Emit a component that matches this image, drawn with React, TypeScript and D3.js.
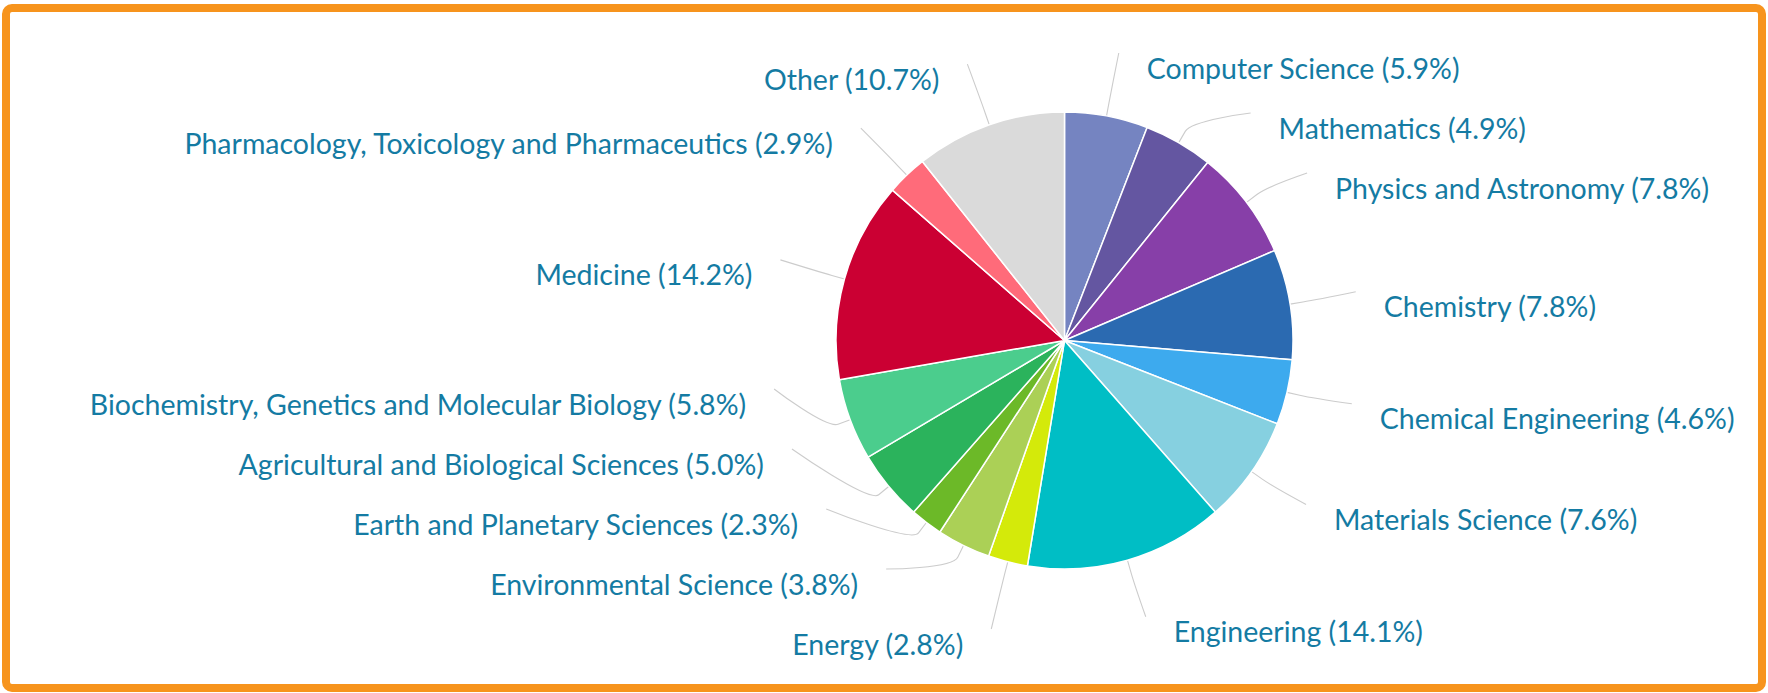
// react
import { useEffect, useRef } from "react";

// d3
import * as d3 from "d3";

const CATEGORIES = [
  "Computer Science",
  "Mathematics",
  "Physics and Astronomy",
  "Chemistry",
  "Chemical Engineering",
  "Materials Science",
  "Engineering",
  "Energy",
  "Environmental Science",
  "Earth and Planetary Sciences",
  "Agricultural and Biological Sciences",
  "Biochemistry, Genetics and Molecular Biology",
  "Medicine",
  "Pharmacology, Toxicology and Pharmaceutics",
  "Other",
];

const SHARES = [5.9, 4.9, 7.8, 7.8, 4.6, 7.6, 14.1, 2.8, 3.8, 2.3, 5.0, 5.8, 14.2, 2.9, 10.7];

const COLORS = [
  "#7584c1",
  "#6456a1",
  "#873fa8",
  "#2b6ab1",
  "#3daaee",
  "#86d0e0",
  "#00bec5",
  "#d4ea0a",
  "#abd056",
  "#6cb928",
  "#2bb35c",
  "#4bcd8d",
  "#cb0033",
  "#ff6b7a",
  "#dadada",
];

const W = 1768;
const H = 693;

type Slice = { name: string; value: number; color: string };

// spread labels of one side so they keep a minimum gap (highcharts-like)
function distribute(nat: number[], gap: number, min: number, max: number) {
  let groups = nat.map((y) => ({ n: 1, sum: y }));
  const pos = (g: { n: number; sum: number }) =>
    Math.max(min, Math.min(max - (g.n - 1) * gap, g.sum / g.n - ((g.n - 1) * gap) / 2));
  let changed = true;
  while (changed) {
    changed = false;
    for (let i = 0; i < groups.length - 1; i++) {
      const a = groups[i];
      const b = groups[i + 1];
      if (pos(a) + a.n * gap > pos(b) + 0.01) {
        groups = [
          ...groups.slice(0, i),
          { n: a.n + b.n, sum: a.sum + b.sum },
          ...groups.slice(i + 2),
        ];
        changed = true;
        break;
      }
    }
  }
  const out: number[] = [];
  groups.forEach((g) => {
    const p = pos(g);
    for (let k = 0; k < g.n; k++) out.push(p + k * gap);
  });
  return out;
}

export default function App() {
  const ref = useRef<SVGSVGElement>(null);

  useEffect(() => {
    if (!ref.current) return;
    const svg = d3.select(ref.current);
    svg.selectAll("*").remove();

    const cx = 1064.5;
    const cy = 340.5;
    const r = 228.5;
    // labels sit on an ellipse around the pie
    const Rx = 295;
    const Ry = 290;
    const cyl = 338;
    const gap = 60;
    const top = 53;
    const bottom = 629;

    // frame
    svg
      .append("rect")
      .attr("x", 6)
      .attr("y", 8)
      .attr("width", 1756)
      .attr("height", 680)
      .attr("rx", 6)
      .attr("fill", "#fff")
      .attr("stroke", "#f7941d")
      .attr("stroke-width", 8);

    const data: Slice[] = CATEGORIES.map((name, i) => ({
      name,
      value: SHARES[i],
      color: COLORS[i],
    }));

    const pie = d3
      .pie<Slice>()
      .sort(null)
      .value((d) => d.value);
    const arcs = pie(data);

    const arc = d3.arc<d3.PieArcDatum<Slice>>().innerRadius(0).outerRadius(r);

    const g = svg.append("g");

    // label layout
    const items = arcs.map((a) => {
      const mid = (a.startAngle + a.endAngle) / 2;
      return {
        a,
        mid,
        left: mid > Math.PI,
        natY: cyl - Math.cos(mid) * Ry,
        y: 0,
        x: 0,
      };
    });

    [false, true].forEach((isLeft) => {
      const side = items.filter((d) => d.left === isLeft).sort((p, q) => p.natY - q.natY);
      const ys = distribute(
        side.map((d) => d.natY),
        gap,
        top,
        bottom
      );
      side.forEach((d, i) => {
        d.y = ys[i];
        const yy = d.y < top + 2 || d.y > bottom - 2 ? d.natY : d.y;
        const t = Math.min(1, Math.abs(yy - cyl) / Ry);
        const dx = Rx * Math.sqrt(1 - t * t);
        d.x = cx + (isLeft ? -dx : dx);
      });
    });

    // connectors
    const off = 13;
    items.forEach((d) => {
      const sx = Math.sin(d.mid);
      const sy = -Math.cos(d.mid);
      const tx = cx + sx * r;
      const ty = cy + sy * r;
      const bx = cx + sx * (r + off);
      const by = cy + sy * (r + off);
      const p = d3.path();
      p.moveTo(d.x, d.y);
      p.bezierCurveTo(d.x, d.y, 2 * bx - tx, 2 * by - ty, bx, by);
      p.lineTo(tx, ty);
      g.append("path")
        .attr("d", p.toString())
        .attr("fill", "none")
        .attr("stroke", "#cccccc")
        .attr("stroke-width", 1.1);
    });

    // slices
    g.selectAll("path.slice")
      .data(arcs)
      .enter()
      .append("path")
      .attr("class", "slice")
      .attr("transform", `translate(${cx},${cy})`)
      .attr("d", arc)
      .attr("fill", (d) => d.data.color)
      .attr("stroke", "#fff")
      .attr("stroke-width", 1.5)
      .attr("stroke-linejoin", "round");

    // labels
    items.forEach((d) => {
      g.append("text")
        .attr("x", d.left ? d.x - 28 : d.x + 28)
        .attr("y", d.y + 25.5)
        .attr("text-anchor", d.left ? "end" : "start")
        .attr("font-family", "Lato, 'Open Sans', sans-serif")
        .attr("font-size", 28.5)
        .attr("fill", "#147ba3")
        .text(`${d.a.data.name} (${d.a.data.value.toFixed(1)}%)`);
    });
  }, []);

  return (
    <div style={{ position: "absolute", left: 0, top: 0 }}>
      <svg ref={ref} width={W} height={H} style={{ display: "block" }} />
    </div>
  );
}
